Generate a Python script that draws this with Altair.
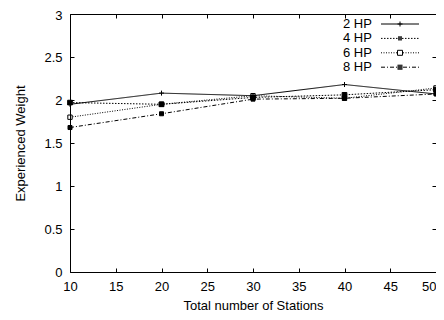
import altair as alt
import pandas as pd

# ---- data ----
stations = [10, 20, 30, 40, 50]
series_names = ["2 HP", "4 HP", "6 HP", "8 HP"]
hp2 = [1.95, 2.08, 2.05, 2.18, 2.07]
hp4 = [1.97, 1.95, 2.03, 2.06, 2.12]
hp6 = [1.80, 1.95, 2.05, 2.02, 2.14]
hp8 = [1.68, 1.84, 2.01, 2.02, 2.07]
x_ticks = [10, 15, 20, 25, 30, 35, 40, 45, 50]
y_ticks = [0, 0.5, 1, 1.5, 2, 2.5, 3]

rows = []
for name, vals in zip(series_names, [hp2, hp4, hp6, hp8]):
    for s, v in zip(stations, vals):
        rows.append({"stations": s, "weight": v, "series": name})
df = pd.DataFrame(rows)

FONT = "Liberation Sans"
FS = 13
W, H = 366, 258

# ---- styles ----
dashes = [[1, 0], [1.5, 1.5], [1, 1.5], [4, 2, 1, 2]]
PLUS = "M-1,0H1M0,-1V1"
pt_shapes = [PLUS, "square", "square", "square"]
pt_sizes = [25, 16, 30, 30]
pt_fills = ["transparent", "black", "transparent", "black"]

# legend symbol paths (legend sample drawn to the right of the label)
U = 5.0  # px per path unit for symbolSize 100
L0, L1, MID = 46.5, 84.5, 65.5


def u(v):
    return f"{v / U:.2f}"


def dashed(pattern, gap_half):
    out = []
    solid = sum(pattern[1::2]) == 0
    segs = [(L0, MID - gap_half), (MID + gap_half, L1)] if gap_half > 0 else [(L0, L1)]
    for a, b in segs:
        if solid:
            out.append(f"M{u(a)},0H{u(b)}")
            continue
        x = a
        i = 0
        while x < b:
            ln = pattern[i % len(pattern)]
            if i % 2 == 0:
                out.append(f"M{u(x)},0H{u(min(x + ln, b))}")
            x += ln
            i += 1
    return "".join(out)


def filled_sq(half, rows_px):
    return "".join(f"M{u(MID - half)},{u(r)}H{u(MID + half)}" for r in rows_px)


leg_paths = [
    dashed([1, 0], 0) + f"M{u(MID - 2.5)},0H{u(MID + 2.5)}M{u(MID)},{u(-2.5)}V{u(2.5)}",
    dashed([1.5, 1.5], 2) + filled_sq(2, [-1.5, -0.5, 0.5, 1.5]),
    dashed([1, 1.5], 3) + f"M{u(MID - 2.5)},{u(-2.5)}H{u(MID + 2.5)}V{u(2.5)}H{u(MID - 2.5)}Z",
    dashed([4, 2, 1, 2], 3) + filled_sq(2.5, [-2, -1, 0, 1, 2]),
]

xscale = alt.Scale(domain=[10, 50], nice=False)
yscale = alt.Scale(domain=[0, 3], nice=False)

base = alt.Chart(df)

lines = base.mark_line(color="black", strokeWidth=1).encode(
    x=alt.X("stations:Q", scale=xscale,
            axis=alt.Axis(orient="bottom", values=x_ticks, tickSize=4, offset=-4,
                          tickColor="black", domain=False, grid=False, labelPadding=8,
                          labelAlign={"condition": {"test": "datum.value == 50", "value": "right"},
                                      "value": "center"},
                          title="Total number of Stations", titlePadding=6)),
    y=alt.Y("weight:Q", scale=yscale,
            axis=alt.Axis(orient="left", values=y_ticks, format="~g", tickSize=4, offset=-4,
                          tickColor="black", domain=False, grid=False, labelPadding=8,
                          labelOffset={"condition": {"test": "datum.value == 3", "value": 1},
                                       "value": 0},
                          title="Experienced Weight", titlePadding=16)),
    strokeDash=alt.StrokeDash("series:N", scale=alt.Scale(domain=series_names, range=dashes),
                              legend=None),
    detail="series:N",
)

points = base.mark_point(stroke="black", strokeWidth=1, opacity=1).encode(
    x=alt.X("stations:Q", scale=xscale,
            axis=alt.Axis(orient="top", values=x_ticks, labels=False, domain=False,
                          grid=False, tickSize=4, offset=-4, title=None, tickColor="black")),
    y=alt.Y("weight:Q", scale=yscale,
            axis=alt.Axis(orient="right", values=y_ticks, labels=False, domain=False,
                          grid=False, tickSize=4, offset=-4, title=None, tickColor="black")),
    shape=alt.Shape("series:N", scale=alt.Scale(domain=series_names, range=pt_shapes), legend=None),
    size=alt.Size("series:N", scale=alt.Scale(domain=series_names, range=pt_sizes), legend=None),
    fill=alt.Fill("series:N", scale=alt.Scale(domain=series_names, range=pt_fills), legend=None),
)

legend_layer = base.mark_point(color="black", filled=False, opacity=0).encode(
    x=alt.X("stations:Q", scale=xscale, axis=None),
    y=alt.Y("weight:Q", scale=yscale, axis=None),
    shape=alt.Shape(
        "series:N",
        scale=alt.Scale(domain=series_names, range=leg_paths),
        legend=alt.Legend(
            title=None, orient="none", legendX=258, legendY=3.5, padding=0,
            rowPadding=0.4, labelOffset=2, symbolOffset=0, symbolSize=100,
            symbolStrokeColor="black", symbolFillColor="transparent",
            symbolStrokeWidth=1, symbolOpacity=1, labelFont=FONT, labelFontSize=FS,
            labelColor="black", labelLimit=0,
        ),
    ),
)

chart = (
    alt.layer(lines, points, legend_layer)
    .resolve_scale(shape="independent")
    .resolve_axis(x="independent", y="independent")
    .properties(width=W, height=H, autosize=alt.AutoSizeParams(type="none"),
                padding={"left": 62, "top": 6, "right": 0, "bottom": 40},
                background="white")
    .configure_view(stroke="black", strokeWidth=1)
    .configure_axis(labelFont=FONT, labelFontSize=FS, labelColor="black",
                    titleFont=FONT, titleFontSize=FS, titleFontWeight="normal",
                    titleColor="black")
)

chart.save("out.html", embed_options={"renderer": "svg", "actions": False})
